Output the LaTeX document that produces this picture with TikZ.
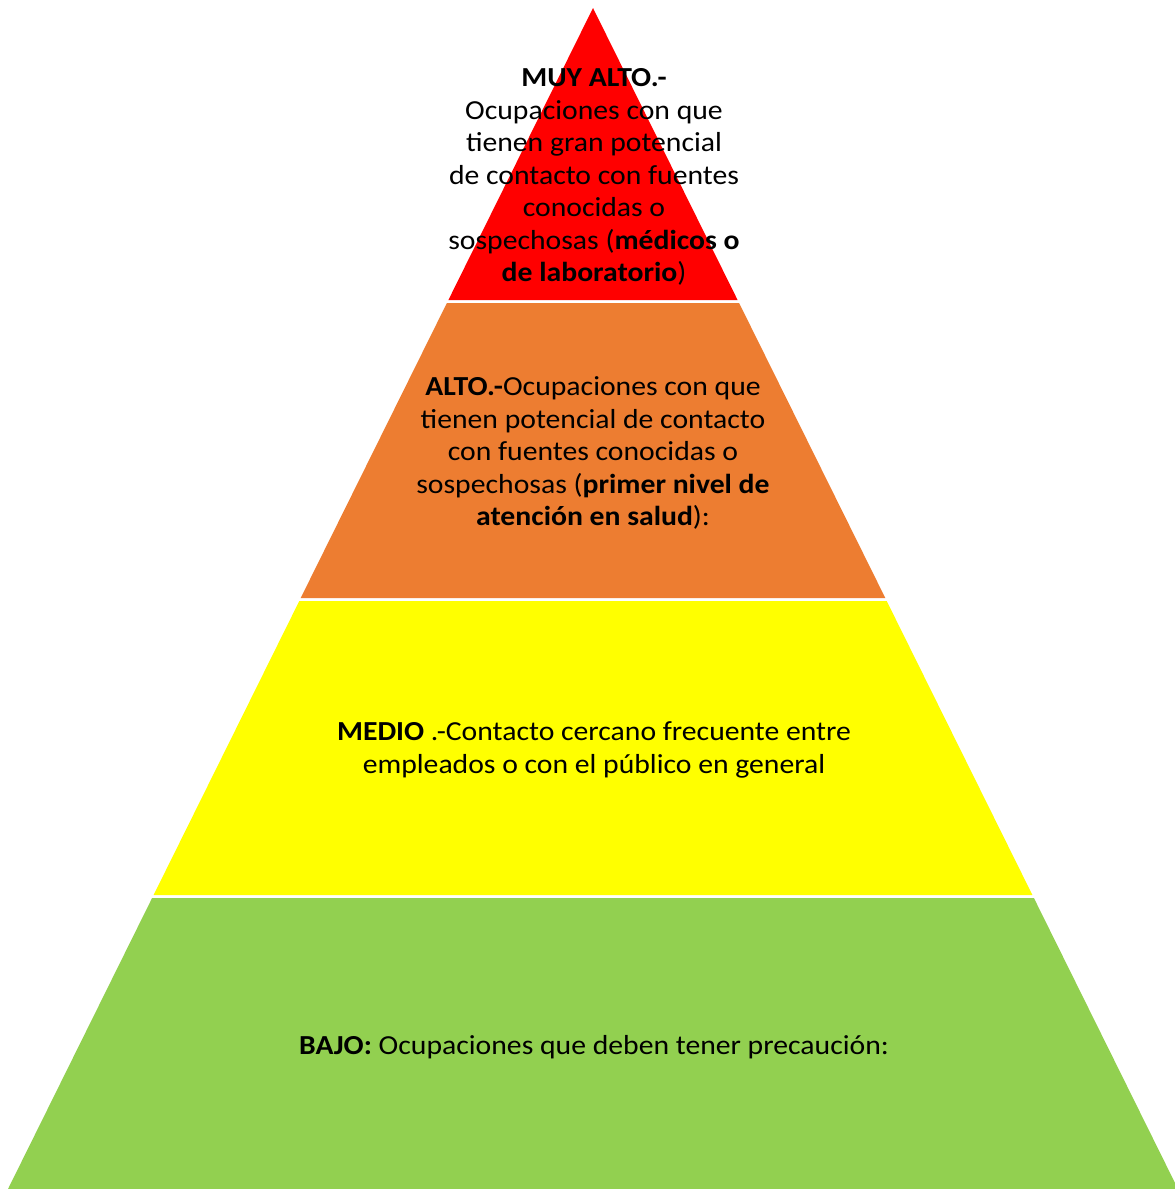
\documentclass[tikz,border=0pt]{standalone}
\usepackage{fontspec}
\setmainfont{Carlito}[FakeStretch=1.08]
\definecolor{lvred}{HTML}{FF0000}
\definecolor{lvorange}{HTML}{ED7D31}
\definecolor{lvyellow}{HTML}{FFFF00}
\definecolor{lvgreen}{HTML}{92D050}
\tikzset{
  lvtext/.style={align=center, inner sep=0pt, text=black, font=\fontsize{27.5}{32.5}\selectfont}
}
\begin{document}
\begin{tikzpicture}[x=1pt,y=-1pt]
\useasboundingbox (0,0) rectangle (1175,1189);
\clip (0,0) rectangle (1175,1189);
\fill[white] (0,0) rectangle (1175,1189);
% layers
\fill[lvred] (593,8) -- (448.4,300) -- (737.6,300) -- cycle;
\fill[lvorange] (446.9,303) -- (739.1,303) -- (885.3,598) -- (300.7,598) -- cycle;
\fill[lvyellow] (299.3,601) -- (886.7,601) -- (1032.4,895) -- (153.6,895) -- cycle;
\fill[lvgreen] (152.1,898) -- (1033.9,898) -- (1178,1189) -- (8,1189) -- cycle;
% texts
\node[lvtext] (muyalto) at (594,177) {\textbf{MUY ALTO.-}\\Ocupaciones con que\\tienen gran potencial\\de contacto con fuentes\\conocidas o\\sospechosas (\textbf{médicos o}\\\textbf{de laboratorio})};
\node[lvtext] (alto) at (593,453) {\textbf{ALTO.-}Ocupaciones con que\\tienen potencial de contacto\\con fuentes conocidas o\\sospechosas (\textbf{primer nivel de}\\\textbf{atención en salud}):};
\node[lvtext] (medio) at (594,750) {\textbf{MEDIO} .-Contacto cercano frecuente entre\\empleados o con el público en general};
\node[lvtext] (bajo) at (594,1047) {\textbf{BAJO:} Ocupaciones que deben tener precaución:};
\end{tikzpicture}
\end{document}
